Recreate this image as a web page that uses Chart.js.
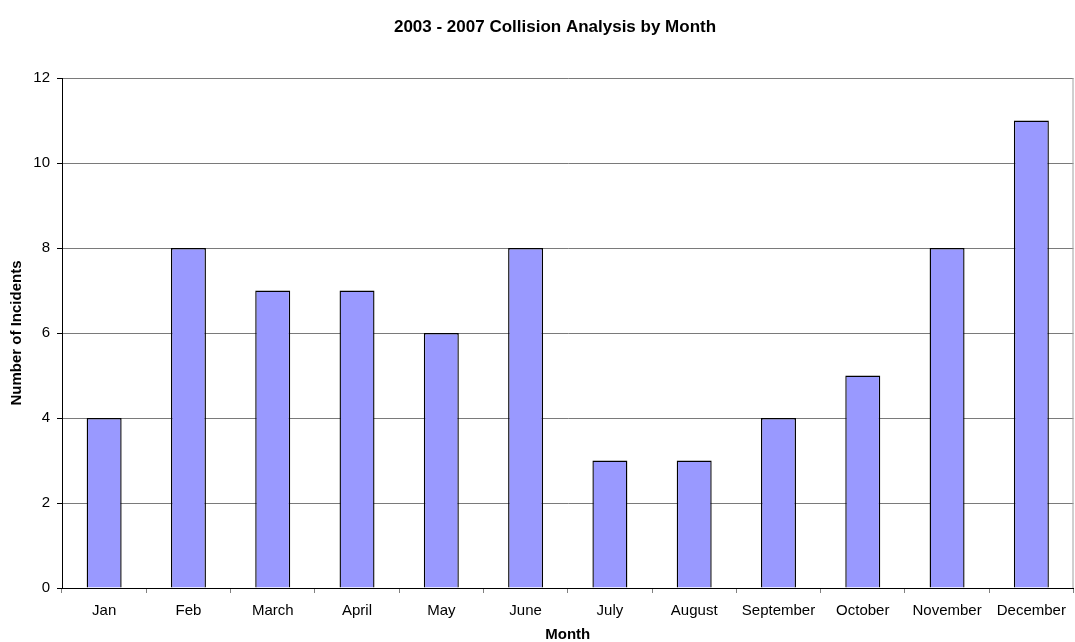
<!DOCTYPE html>
<html>
<head>
<meta charset="utf-8">
<script src="https://cdn.jsdelivr.net/npm/chart.js@4.4.1/dist/chart.umd.min.js"></script>
<style>
  html, body { margin: 0; padding: 0; background: #ffffff; }
  #wrap { width: 1075px; height: 642px; position: relative; }
</style>
</head>
<body>
<div id="wrap"><canvas id="chart" width="1075" height="642"></canvas></div>
<script>
// Monthly collision counts, 2003-2007
const months = ["Jan", "Feb", "March", "April", "May", "June", "July", "August", "September", "October", "November", "December"];
const incidents = [4, 8, 7, 7, 6, 8, 3, 3, 4, 5, 8, 11];
const yTicks = [0, 2, 4, 6, 8, 10, 12];

const FONT = "'Liberation Sans', Arial, sans-serif";

// Thin grey frame on the right side of the plot area,
// and the title centred a little to the right, over the plot.
const frameRight = {
  id: 'frameRight',
  afterLayout(chart) {
    if (chart.titleBlock) chart.titleBlock.left = 36;
  },
  afterDraw(chart) {
    const { ctx, chartArea } = chart;
    ctx.save();
    ctx.strokeStyle = '#a0a0a0';
    ctx.lineWidth = 1;
    ctx.beginPath();
    ctx.moveTo(chartArea.right - 0.5, chartArea.top);
    ctx.lineTo(chartArea.right - 0.5, chartArea.bottom);
    ctx.stroke();
    ctx.restore();
  }
};

new Chart(document.getElementById('chart'), {
  type: 'bar',
  data: {
    labels: months,
    datasets: [{
      label: 'Number of Incidents',
      data: incidents,
      backgroundColor: '#9999ff',
      borderColor: '#000000',
      borderWidth: 1.4,
      barPercentage: 0.415,
      categoryPercentage: 1.0
    }]
  },
  options: {
    responsive: false,
    animation: false,
    devicePixelRatio: 1,
    layout: { padding: { left: 0, right: 1, top: 0, bottom: 0 } },
    plugins: {
      legend: { display: false },
      tooltip: { enabled: false },
      title: {
        display: true,
        text: '2003 - 2007 Collision Analysis by Month',
        color: '#000000',
        font: { family: FONT, size: 17, weight: 'bold' },
        padding: { top: 17, bottom: 40.6 }
      }
    },
    scales: {
      x: {
        offset: true,
        grid: {
          display: true,
          drawOnChartArea: false,
          drawTicks: true,
          tickLength: 5,
          color: '#808080',
          offset: true
        },
        border: { display: true, color: '#000000', width: 1 },
        ticks: {
          color: '#000000',
          font: { family: FONT, size: 15 },
          padding: 9,
          maxRotation: 0,
          autoSkip: false
        },
        title: {
          display: true,
          text: 'Month',
          color: '#000000',
          font: { family: FONT, size: 15, weight: 'bold', lineHeight: 1 },
          padding: { top: 2, bottom: 0 }
        },
        afterFit(scale) { scale.height = 54; }
      },
      y: {
        min: 0,
        max: 12,
        afterBuildTicks(scale) { scale.ticks = yTicks.map(v => ({ value: v })); },
        grid: {
          color: '#7a7a7a',
          lineWidth: 1,
          drawTicks: true,
          tickLength: 5,
          tickColor: '#000000'
        },
        border: { display: true, color: '#000000', width: 1 },
        ticks: {
          color: '#000000',
          font: { family: FONT, size: 15 },
          padding: 7
        },
        title: {
          display: true,
          text: 'Number of Incidents',
          color: '#000000',
          font: { family: FONT, size: 15, weight: 'bold' },
          padding: { top: 8, bottom: 0 }
        },
        afterFit(scale) { scale.width = 62; }
      }
    }
  },
  plugins: [frameRight]
});
</script>
</body>
</html>
